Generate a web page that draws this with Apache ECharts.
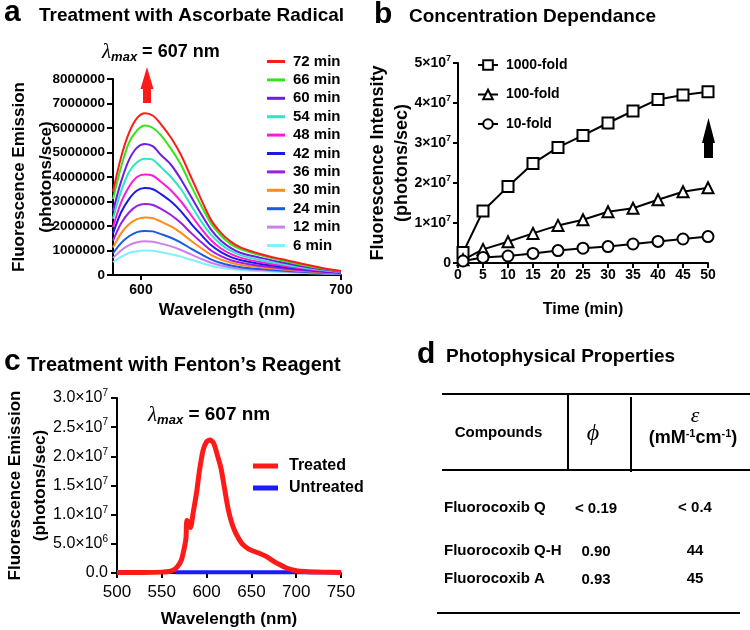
<!DOCTYPE html>
<html><head><meta charset="utf-8">
<script src="https://cdn.jsdelivr.net/npm/echarts@6/dist/echarts.min.js"></script>
<style>html,body{margin:0;padding:0;background:#fff}#c{width:750px;height:630px}</style>
</head><body><div id="c"></div>
<script>
// ---------- Panel a : Treatment with Ascorbate Radical (values in millions of photons/sec) ----------
const wavelengthA = [586,590,594,598,602,606,610,615,620,625,630,635,640,645,650,660,670,680,690,700];
const timeLabelsA = ['72 min','66 min','60 min','54 min','48 min','42 min','36 min','30 min','24 min','12 min','6 min'];
const e72 = [3.4,4.8,5.8,6.4,6.6,6.5,6.15,5.6,4.9,4.0,3.1,2.25,1.72,1.35,1.12,0.85,0.65,0.47,0.3,0.16];
const e66 = [3.1,4.4,5.4,5.9,6.1,6.0,5.7,5.15,4.5,3.65,2.85,2.1,1.6,1.25,1.05,0.8,0.6,0.42,0.27,0.15];
const e60 = [2.6,3.8,4.7,5.2,5.35,5.25,4.9,4.5,3.9,3.2,2.5,1.85,1.4,1.1,0.9,0.7,0.52,0.37,0.24,0.13];
const e54 = [2.3,3.4,4.2,4.6,4.75,4.7,4.4,4.0,3.5,2.85,2.2,1.65,1.25,0.98,0.8,0.6,0.45,0.32,0.21,0.12];
const e48 = [1.95,2.95,3.6,4.0,4.1,4.05,3.8,3.45,3.0,2.45,1.9,1.42,1.08,0.85,0.7,0.52,0.39,0.28,0.18,0.1];
const e42 = [1.7,2.55,3.1,3.45,3.55,3.5,3.3,3.0,2.6,2.1,1.65,1.22,0.93,0.73,0.6,0.45,0.34,0.24,0.16,0.09];
const e36 = [1.4,2.1,2.55,2.82,2.9,2.86,2.7,2.45,2.12,1.72,1.35,1.0,0.77,0.6,0.5,0.37,0.28,0.2,0.13,0.08];
const e30 = [1.12,1.7,2.07,2.28,2.35,2.32,2.18,1.98,1.72,1.4,1.1,0.82,0.63,0.5,0.41,0.31,0.23,0.17,0.11,0.07];
const e24 = [0.88,1.3,1.58,1.75,1.8,1.78,1.67,1.52,1.32,1.08,0.85,0.64,0.49,0.39,0.32,0.24,0.18,0.13,0.09,0.06];
const e12 = [0.7,1.0,1.22,1.34,1.38,1.36,1.28,1.17,1.02,0.84,0.66,0.5,0.39,0.31,0.26,0.2,0.15,0.11,0.08,0.05];
const e6  = [0.53,0.74,0.9,0.97,1.0,0.99,0.93,0.85,0.75,0.62,0.5,0.38,0.3,0.24,0.2,0.15,0.12,0.09,0.06,0.04];
const seriesA = [e72,e66,e60,e54,e48,e42,e36,e30,e24,e12,e6];
const yTicksA = [0,1000000,2000000,3000000,4000000,5000000,6000000,7000000,8000000];
const xTicksA = [600,650,700];

// ---------- Panel b : Concentration Dependance ----------
const timeB = [1,5,10,15,20,25,30,35,40,45,50];
const foldNames = ['1000-fold','100-fold','10-fold'];
const fold1000 = [2.6e6,1.3e7,1.91e7,2.49e7,2.89e7,3.19e7,3.5e7,3.8e7,4.09e7,4.2e7,4.28e7];
const fold100  = [0.8e6,3.4e6,5.3e6,7.4e6,9.4e6,1.08e7,1.28e7,1.37e7,1.58e7,1.78e7,1.88e7];
const fold10   = [0.5e6,1.4e6,1.75e6,2.4e6,3.1e6,3.7e6,4.1e6,4.75e6,5.4e6,6.0e6,6.6e6];

// ---------- Panel c : Treatment with Fenton's Reagent (millions) ----------
const wavelengthT = [500,530,550,558,563,568,572,575,577,578,580,582,585,589,592,596,600,604,608,612,616,620,624,628,632,637,641,646,650,660,667,675,682,690,700,710,730,750];
const treated     = [0.1,0.1,0.15,0.25,0.5,1.2,2.3,4.2,6.0,9.0,8.6,7.8,10.3,14.0,17.5,21.0,22.5,22.8,22.2,20.2,18.0,14.5,11.0,8.6,7.0,5.6,4.8,4.2,3.9,3.3,2.8,2.0,1.4,0.8,0.4,0.25,0.15,0.1];
const wavelengthU = [565,600,650,700,750];
const untreated   = [0.12,0.15,0.14,0.12,0.1];

// ---------- Panel d : Photophysical Properties ----------
const compounds = ['Fluorocoxib Q','Fluorocoxib Q-H','Fluorocoxib A'];
const phiValues = ['< 0.19','0.90','0.93'];
const epsValues = ['< 0.4','44','45'];

const FONT = "'Liberation Sans', Arial, Helvetica, sans-serif";
const SERIF = "'Liberation Serif', 'DejaVu Serif', serif";
const colorsA = ['#ff1a1a','#33e61a','#6a1ee6','#2ee6c4','#ff1ad9','#1a1ae6','#9b1ee6','#ff8c1a','#1a5ae6','#cc80f0','#80f0ff'];

const axisLine = {show:true, lineStyle:{color:'#000', width:2}};
const axisTick = (len)=>({show:true, length:len, lineStyle:{color:'#000', width:2}});
const boldLbl = (size, margin)=>({color:'#000', fontSize:size, fontWeight:'bold', fontFamily:FONT, margin});

function supFmt(v, digits){
  if (v === 0) return digits ? '{n|0.0}' : '{n|0}';
  let e = Math.floor(Math.log10(v) + 1e-9);
  let m = v / Math.pow(10, e);
  let ms = digits ? m.toFixed(digits) : String(Math.round(m));
  return '{n|' + ms + '×10}{s|' + e + '}';
}
const richSup = (size, weight)=>({
  n:{fontSize:size, fontWeight:weight, color:'#000', fontFamily:FONT, lineHeight:size+3},
  s:{fontSize:Math.round(size*0.62), fontWeight:weight, color:'#000', fontFamily:FONT, verticalAlign:'top', lineHeight:10}
});

const series = [];
seriesA.forEach((arr,i)=>{
  series.push({
    type:'line', name:timeLabelsA[i], xAxisIndex:0, yAxisIndex:0,
    data: wavelengthA.map((w,j)=>[w, arr[j]*1e6]),
    showSymbol:false, symbol:'none', smooth:0.3,
    lineStyle:{width:2, color:colorsA[i]}, itemStyle:{color:colorsA[i]}, z:2+(11-i)
  });
});
const symB = ['emptyRect','emptyTriangle','emptyCircle'];
[fold1000, fold100, fold10].forEach((arr,i)=>{
  series.push({
    type:'line', name:foldNames[i], xAxisIndex:1, yAxisIndex:1,
    data: timeB.map((t,j)=>[t, arr[j]]),
    symbol:symB[i], symbolSize:11, showSymbol:true,
    lineStyle:{width:2, color:'#000'}, itemStyle:{color:'#000', borderWidth:1.6}
  });
});
series.push({
  type:'line', name:'Untreated', xAxisIndex:2, yAxisIndex:2,
  data: wavelengthU.map((w,j)=>[w, untreated[j]*1e6]),
  symbol:'none', lineStyle:{width:4, color:'#1a1aff'}, itemStyle:{color:'#1a1aff'}
});
series.push({
  type:'line', name:'Treated', xAxisIndex:2, yAxisIndex:2,
  data: wavelengthT.map((w,j)=>[w, treated[j]*1e6]),
  symbol:'none', smooth:0.25, lineStyle:{width:5, color:'#ff1a1a'}, itemStyle:{color:'#ff1a1a'}
});

function txt(x, y, text, size, extra){
  return {type:'text', x, y, style:Object.assign({
    text, fill:'#000', fontSize:size, fontWeight:'bold', fontFamily:FONT,
    align:'left', verticalAlign:'middle', textAlign:'left', textVerticalAlign:'middle'
  }, extra||{})};
}
function line(x1,y1,x2,y2){
  return {type:'line', shape:{x1,y1,x2,y2}, style:{stroke:'#000', lineWidth:2}};
}
const lambdaRich = (tSize)=>({
  l:{fontFamily:SERIF, fontStyle:'italic', fontSize:21, lineHeight:24, verticalAlign:'middle', fill:'#000', color:'#000'},
  s:{fontFamily:FONT, fontStyle:'italic', fontWeight:'bold', fontSize:13, lineHeight:14, verticalAlign:'bottom', fill:'#000', color:'#000'},
  t:{fontFamily:FONT, fontWeight:'bold', fontSize:tSize, lineHeight:24, verticalAlign:'middle', fill:'#000', color:'#000'}
});

const graphics = [
  txt(4, 13, 'a', 30), txt(39, 16, 'Treatment with Ascorbate Radical', 19),
  txt(374, 15, 'b', 30), txt(409, 17, 'Concentration Dependance', 19),
  txt(4, 362, 'c', 30), txt(27, 365, 'Treatment with Fenton\u2019s Reagent', 20),
  txt(417, 355, 'd', 30), txt(446, 357, 'Photophysical Properties', 19),
  {type:'text', x:102, y:40, style:{text:'{l|λ}{s|max}{t| = 607 nm}', rich:lambdaRich(18), verticalAlign:'top', textVerticalAlign:'top', fill:'#000'}},
  {type:'text', x:148, y:403, style:{text:'{l|λ}{s|max}{t| = 607 nm}', rich:lambdaRich(19), verticalAlign:'top', textVerticalAlign:'top', fill:'#000'}},
  {type:'polygon', shape:{points:[[147,67],[153.5,89],[151,89],[151,103],[143,103],[143,89],[140.5,89]]}, style:{fill:'#ff1a1a'}},
  {type:'polygon', shape:{points:[[708.5,118],[715,143],[713,143],[713,158],[704,158],[704,143],[702,143]]}, style:{fill:'#000'}},
  // table
  line(442,394,750,394), line(442,470,750,470), line(568,394,568,470), line(631,397,631,472), line(437,613,740,613),
  txt(498.5, 433, 'Compounds', 15, {align:'center', textAlign:'center'}),
  txt(593, 434, 'ϕ', 24, {fontFamily:SERIF, fontStyle:'italic', fontWeight:'normal', align:'center', textAlign:'center'}),
  txt(695, 416, 'ε', 22, {fontFamily:SERIF, fontStyle:'italic', fontWeight:'normal', align:'center', textAlign:'center'}),
  {type:'text', x:693, y:438, style:{text:'{m|(mM}{s|-1}{m|cm}{s|-1}{m|)}', align:'center', textAlign:'center', verticalAlign:'middle', textVerticalAlign:'middle',
    rich:{m:{fontFamily:FONT, fontWeight:'bold', fontSize:18, lineHeight:20, fill:'#000', color:'#000'},
          s:{fontFamily:FONT, fontWeight:'bold', fontSize:11, lineHeight:11, verticalAlign:'top', fill:'#000', color:'#000'}}}}
];
const rowY = [508, 551, 579];
compounds.forEach((c,i)=>{
  graphics.push(txt(444, rowY[i], c, 15));
  graphics.push(txt(596, rowY[i]+1, phiValues[i], 15, {align:'center', textAlign:'center'}));
  graphics.push(txt(695, rowY[i], epsValues[i], 15, {align:'center', textAlign:'center'}));
});

const lineIconA = 'path://M0,0H18V3H0Z';
const lineIconC = 'path://M0,0H25V5H0Z';

const option = {
  animation:false,
  backgroundColor:'#fff',
  textStyle:{fontFamily:FONT},
  grid:[
    {left:113, top:79, width:228, height:196, outerBoundsMode:'none', containLabel:false},
    {left:458, top:63, width:250, height:200, outerBoundsMode:'none', containLabel:false},
    {left:117, top:398, width:224, height:175, outerBoundsMode:'none', containLabel:false}
  ],
  xAxis:[
    {gridIndex:0, type:'value', min:586, max:700, axisLine, axisTick:Object.assign(axisTick(5),{customValues:xTicksA}),
     axisLabel:Object.assign(boldLbl(14,8),{customValues:xTicksA, formatter:(v)=>String(v)}), splitLine:{show:false},
     name:'Wavelength (nm)', nameLocation:'middle', nameGap:27, nameTextStyle:{fontSize:17, fontWeight:'bold', color:'#000'}},
    {gridIndex:1, type:'value', min:0, max:50, interval:5, axisLine, axisTick:axisTick(5),
     axisLabel:boldLbl(14,5), splitLine:{show:false},
     name:'Time (min)', nameLocation:'middle', nameGap:39, nameTextStyle:{fontSize:16, fontWeight:'bold', color:'#000'}},
    {gridIndex:2, type:'value', min:500, max:750, interval:50, axisLine, axisTick:axisTick(5),
     axisLabel:{color:'#000', fontSize:17, fontFamily:FONT, margin:11}, splitLine:{show:false},
     name:'Wavelength (nm)', nameLocation:'middle', nameGap:38, nameTextStyle:{fontSize:17, fontWeight:'bold', color:'#000'}}
  ],
  yAxis:[
    {gridIndex:0, type:'value', min:0, max:8000000, interval:1000000, axisLine, axisTick:axisTick(6),
     axisLabel:Object.assign(boldLbl(13.5,8),{customValues:yTicksA, formatter:(v)=>String(v)}), splitLine:{show:false},
     name:'Fluorescence Emission\n(photons/sce)', nameLocation:'middle', nameRotate:90, nameGap:53, nameMoveOverlap:false,
     nameTextStyle:{fontSize:17, fontWeight:'bold', color:'#000', lineHeight:27}},
    {gridIndex:1, type:'value', min:0, max:50000000, interval:10000000, axisLine, axisTick:axisTick(5),
     axisLabel:{margin:7, formatter:(v)=>supFmt(v,0), rich:richSup(14,'bold')}, splitLine:{show:false},
     name:'Fluorescence Intensity\n(photons/sec)', nameLocation:'middle', nameRotate:90, nameGap:44, nameMoveOverlap:false,
     nameTextStyle:{fontSize:18, fontWeight:'bold', color:'#000', lineHeight:24}},
    {gridIndex:2, type:'value', min:0, max:30000000, interval:5000000, axisLine, axisTick:axisTick(6),
     axisLabel:{margin:9, formatter:(v)=>supFmt(v,1), rich:richSup(16,'normal')}, splitLine:{show:false},
     name:'Fluorescence Emission\n(photons/sec)', nameLocation:'middle', nameRotate:90, nameGap:64, nameMoveOverlap:false,
     nameTextStyle:{fontSize:17, fontWeight:'bold', color:'#000', lineHeight:25}}
  ],
  legend:[
    {data:timeLabelsA.map(n=>({name:n, icon:lineIconA})), orient:'vertical', left:267, top:54, itemWidth:18, itemHeight:14, itemGap:3.4, padding:0,
     selectedMode:false, textStyle:{fontSize:15, fontWeight:'bold', color:'#000', lineHeight:14, padding:[0,0,0,3]}},
    {data:foldNames, orient:'vertical', left:477, top:58, itemWidth:20, itemHeight:12, itemGap:15.5, padding:0,
     selectedMode:false, textStyle:{fontSize:14, fontWeight:'bold', color:'#000', lineHeight:12, padding:[0,0,0,3]}},
    {data:[{name:'Treated', icon:lineIconC},{name:'Untreated', icon:lineIconC}], orient:'vertical', left:253, top:458, itemWidth:25, itemHeight:14, itemGap:6, padding:0,
     selectedMode:false, textStyle:{fontSize:16, fontWeight:'bold', color:'#000', lineHeight:14, padding:[0,0,0,6]}}
  ],
  graphic:graphics,
  series
};
const chart = echarts.init(document.getElementById('c'), null, {renderer:'canvas'});
chart.setOption(option);
</script></body></html>
